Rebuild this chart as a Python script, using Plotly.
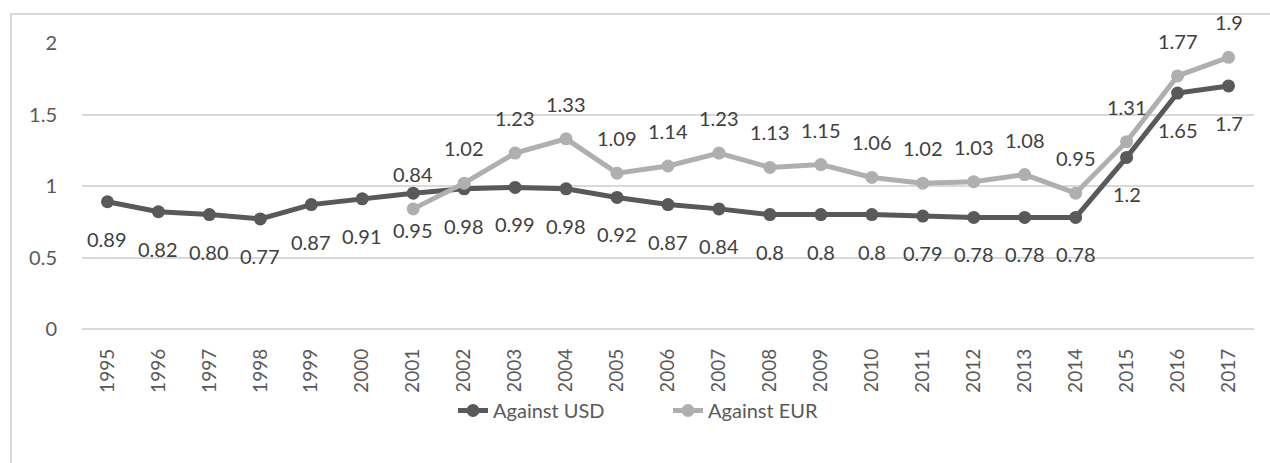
import plotly.graph_objects as go

years = list(range(1995, 2018))
usd = [0.89, 0.82, 0.80, 0.77, 0.87, 0.91, 0.95, 0.98, 0.99, 0.98, 0.92, 0.87, 0.84,
       0.80, 0.80, 0.80, 0.79, 0.78, 0.78, 0.78, 1.20, 1.65, 1.70]
usd_labels = ["0.89", "0.82", "0.80", "0.77", "0.87", "0.91", "0.95", "0.98", "0.99", "0.98",
              "0.92", "0.87", "0.84", "0.8", "0.8", "0.8", "0.79", "0.78", "0.78", "0.78",
              "1.2", "1.65", "1.7"]
eur_years = list(range(2001, 2018))
eur = [0.84, 1.02, 1.23, 1.33, 1.09, 1.14, 1.23, 1.13, 1.15, 1.06, 1.02, 1.03, 1.08,
       0.95, 1.31, 1.77, 1.90]
eur_labels = ["0.84", "1.02", "1.23", "1.33", "1.09", "1.14", "1.23", "1.13", "1.15", "1.06",
              "1.02", "1.03", "1.08", "0.95", "1.31", "1.77", "1.9"]

USD_COLOR = "#595959"
EUR_COLOR = "#AFAFAF"
FONT = "Lato, 'Open Sans', sans-serif"

fig = go.Figure()
fig.add_trace(go.Scatter(
    x=years, y=usd, name="Against USD", mode="lines+markers",
    line=dict(color=USD_COLOR, width=5), marker=dict(color=USD_COLOR, size=13),
))
fig.add_trace(go.Scatter(
    x=eur_years, y=eur, name="Against EUR", mode="lines+markers",
    line=dict(color=EUR_COLOR, width=5), marker=dict(color=EUR_COLOR, size=13),
))

annotations = []
for x, y, t in zip(years, usd, usd_labels):
    annotations.append(dict(x=x, y=y, text=t, showarrow=False, yshift=-37,
                            font=dict(size=20, color="#404040", family=FONT)))
for x, y, t in zip(eur_years, eur, eur_labels):
    annotations.append(dict(x=x, y=y, text=t, showarrow=False, yshift=35,
                            font=dict(size=20, color="#404040", family=FONT)))

fig.update_layout(
    width=1270, height=463,
    margin=dict(l=82, r=16, t=43, b=134),
    paper_bgcolor="white", plot_bgcolor="white",
    font=dict(family=FONT, color="#595959", size=20),
    showlegend=True,
    legend=dict(orientation="h", x=0.5, xanchor="center", y=-0.285, yanchor="middle",
                font=dict(size=20, color="#595959"),
                entrywidth=170, entrywidthmode="pixels"),
    annotations=annotations,
    shapes=[dict(type="rect", xref="paper", yref="paper",
                 x0=-0.0606, x1=1.05, y0=-0.7, y1=1.1014,
                 line=dict(color="#D9D9D9", width=2), layer="below")],
)
fig.update_xaxes(
    range=[1994.5, 2017.5], tickvals=years, ticktext=[str(y) for y in years],
    tickangle=-90, showgrid=False, showline=False, ticks="", zeroline=False,
    tickfont=dict(size=19, color="#595959"), ticklabelstandoff=15,
)
fig.update_yaxes(
    range=[0, 2], tickvals=[0, 0.5, 1, 1.5, 2], ticktext=["0", "0.5", "1", "1.5", "2"],
    showgrid=True, gridcolor="#D9D9D9", gridwidth=2, zeroline=True,
    zerolinecolor="#D9D9D9", zerolinewidth=2, showline=False, ticks="",
    tickfont=dict(size=20, color="#595959"), ticklabelstandoff=24,
)

fig.write_html("out.html")
